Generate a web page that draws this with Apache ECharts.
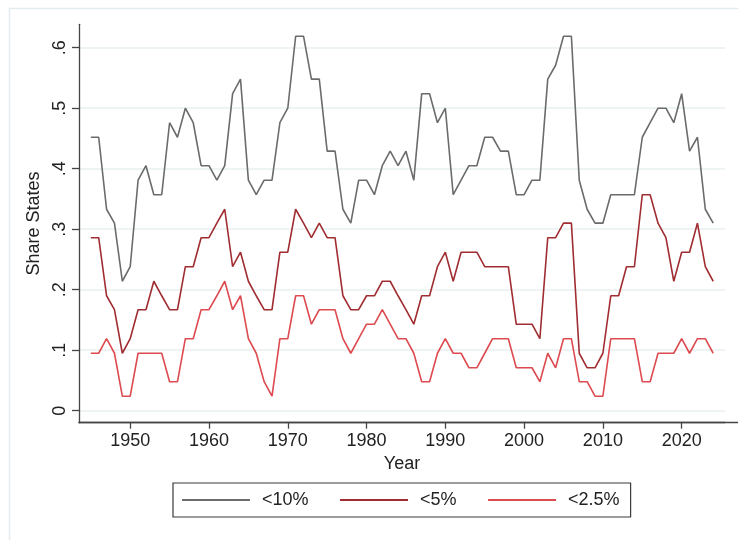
<!DOCTYPE html>
<html>
<head>
<meta charset="utf-8">
<script src="https://cdn.jsdelivr.net/npm/echarts@6/dist/echarts.min.js"></script>
<style>
html,body{margin:0;padding:0;background:#fff;}
#chart{width:738px;height:540px;}
</style>
</head>
<body>
<div id="chart"></div>
<script>
const years = [];
for (let y = 1945; y <= 2024; y++) years.push(y);

const share10 = [
  0.452,0.452,0.333,0.310,0.214,0.238,0.381,0.405,0.357,0.357,
  0.476,0.452,0.500,0.476,0.405,0.405,0.381,0.405,0.524,0.548,
  0.381,0.357,0.381,0.381,0.476,0.500,0.619,0.619,0.548,0.548,
  0.429,0.429,0.333,0.310,0.381,0.381,0.357,0.405,0.429,0.405,
  0.429,0.381,0.524,0.524,0.476,0.500,0.357,0.381,0.405,0.405,
  0.452,0.452,0.429,0.429,0.357,0.357,0.381,0.381,0.548,0.571,
  0.619,0.619,0.381,0.333,0.310,0.310,0.357,0.357,0.357,0.357,
  0.452,0.476,0.500,0.500,0.476,0.524,0.429,0.452,0.333,0.310
];
const share5 = [
  0.286,0.286,0.190,0.167,0.095,0.119,0.167,0.167,0.214,0.190,
  0.167,0.167,0.238,0.238,0.286,0.286,0.310,0.333,0.238,0.262,
  0.214,0.190,0.167,0.167,0.262,0.262,0.333,0.310,0.286,0.310,
  0.286,0.286,0.190,0.167,0.167,0.190,0.190,0.214,0.214,0.190,
  0.167,0.143,0.190,0.190,0.238,0.262,0.214,0.262,0.262,0.262,
  0.238,0.238,0.238,0.238,0.143,0.143,0.143,0.119,0.286,0.286,
  0.310,0.310,0.095,0.071,0.071,0.095,0.190,0.190,0.238,0.238,
  0.357,0.357,0.310,0.286,0.214,0.262,0.262,0.310,0.238,0.214
];
const share25 = [
  0.095,0.095,0.119,0.095,0.024,0.024,0.095,0.095,0.095,0.095,
  0.048,0.048,0.119,0.119,0.167,0.167,0.190,0.214,0.167,0.190,
  0.119,0.095,0.048,0.024,0.119,0.119,0.190,0.190,0.143,0.167,
  0.167,0.167,0.119,0.095,0.119,0.143,0.143,0.167,0.143,0.119,
  0.119,0.095,0.048,0.048,0.095,0.119,0.095,0.095,0.071,0.071,
  0.095,0.119,0.119,0.119,0.071,0.071,0.071,0.048,0.095,0.071,
  0.119,0.119,0.048,0.048,0.024,0.024,0.119,0.119,0.119,0.119,
  0.048,0.048,0.095,0.095,0.095,0.119,0.095,0.119,0.119,0.095
];
const seriesNames = ['<10%', '<5%', '<2.5%'];
const xTicks = [1950,1960,1970,1980,1990,2000,2010,2020];
const yTicks = [0,0.1,0.2,0.3,0.4,0.5,0.6];

const colors = ['#6b6b6b', '#a02d31', '#dd4a4f'];
const FONT = '"Liberation Sans", Arial, Helvetica, sans-serif';
const axisColor = '#454545';

function pairs(vals){ return years.map((y,i)=>[y, vals[i]]); }

const chart = echarts.init(document.getElementById('chart'), null, {renderer:'canvas'});
chart.setOption({
  animation: false,
  backgroundColor: '#ffffff',
  textStyle: {fontFamily: FONT},
  graphic: [{
    type: 'rect', left: 7, top: 6, silent: true,
    shape: {x: 0, y: 0, width: 900, height: 900},
    style: {fill: 'none', stroke: '#e3ebee', lineWidth: 1.5}
  }],
  grid: [
    {left: 79, right: 13, top: 24.3, bottom: 117.3, containLabel: false},
    {left: 79, right: 0, top: 24.3, bottom: 117.3, containLabel: false}
  ],
  xAxis: [{
    type: 'value', min: 1943.5, max: 2025.5, gridIndex: 0,
    name: 'Year', nameLocation: 'middle', nameGap: 31,
    nameTextStyle: {fontSize: 18, color: '#222', fontFamily: FONT},
    axisLine: {show: true, onZero: false, lineStyle: {color: axisColor, width: 1.3}},
    axisTick: {show: true, length: 6, customValues: xTicks, lineStyle: {color: axisColor, width: 1.3}},
    axisLabel: {customValues: xTicks, margin: 9, fontSize: 18, color: '#222', fontFamily: FONT,
      formatter: v => String(v)},
    splitLine: {show: false}
  }, {
    type: 'value', min: 1943.5, max: 2027.2, gridIndex: 1,
    axisLine: {show: true, onZero: false, lineStyle: {color: axisColor, width: 1.3}},
    axisTick: {show: false}, axisLabel: {show: false}, splitLine: {show: false}
  }],
  yAxis: [{
    type: 'value', min: -0.0198, max: 0.6387, gridIndex: 0,
    name: 'Share States', nameLocation: 'middle', nameGap: 30,
    nameTextStyle: {fontSize: 18, color: '#222', fontFamily: FONT},
    axisLine: {show: true, onZero: false, lineStyle: {color: axisColor, width: 1.3}},
    axisTick: {show: true, length: 7, customValues: yTicks, lineStyle: {color: axisColor, width: 1.3}},
    axisLabel: {customValues: yTicks, rotate: 90, margin: 10, fontSize: 18, color: '#222', fontFamily: FONT,
      formatter: v => v === 0 ? '0' : String(Math.round(v*10)/10).replace(/^0/, '')},
    splitLine: {show: true, lineStyle: {color: '#e8eff1', width: 1.5}}
  }, {
    type: 'value', min: -0.0198, max: 0.6387, gridIndex: 1, show: false,
    axisLine: {show: false, onZero: false}, splitLine: {show: false}
  }],
  legend: {
    data: seriesNames,
    left: 173, top: 483,
    padding: [7, 11, 7, 9],
    icon: 'rect',
    itemWidth: 68, itemHeight: 2, itemGap: 31.5,
    borderColor: '#3a3a3a', borderWidth: 1.2, borderRadius: 0,
    textStyle: {fontSize: 18, color: '#222', fontFamily: FONT, padding: [0,0,0,7], lineHeight: 20}
  },
  series: [
    {name: seriesNames[0], type: 'line', data: pairs(share10), symbol: 'none', color: colors[0], lineStyle: {width: 1.6, color: colors[0]}},
    {name: seriesNames[1], type: 'line', data: pairs(share5), symbol: 'none', color: colors[1], lineStyle: {width: 1.6, color: colors[1]}},
    {name: seriesNames[2], type: 'line', data: pairs(share25), symbol: 'none', color: colors[2], lineStyle: {width: 1.6, color: colors[2]}}
  ]
});
</script>
</body>
</html>
